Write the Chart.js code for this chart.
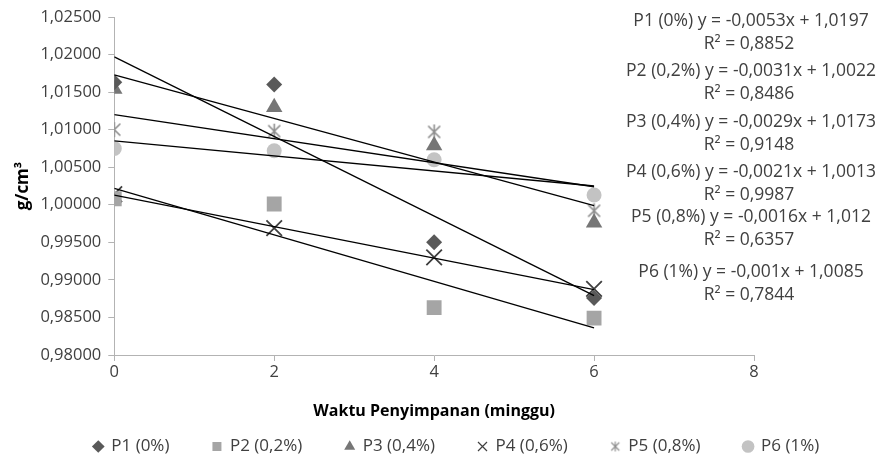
<!DOCTYPE html>
<html>
<head>
<meta charset="utf-8">
<script src="https://cdn.jsdelivr.net/npm/chart.js@4.4.0/dist/chart.umd.min.js"></script>
<style>
  html, body { margin: 0; padding: 0; background: #fff; }
  #wrap { width: 876px; height: 454px; }
</style>
</head>
<body>
<div id="wrap"><canvas id="densChart"></canvas></div>
<script>
// data
const seriesNames = ["P1 (0%)", "P2 (0,2%)", "P3 (0,4%)", "P4 (0,6%)", "P5 (0,8%)", "P6 (1%)"];
const weeks = [0, 2, 4, 6];
const p1 = [1.0163, 1.0160, 0.9950, 0.9876];
const p2 = [1.0008, 1.0001, 0.9863, 0.9849];
const p3 = [1.0154, 1.0130, 1.0079, 0.9976];
const p4 = [1.0014, 0.9969, 0.9930, 0.9888];
const p5 = [1.0100, 1.0098, 1.0097, 0.9992];
const p6 = [1.0075, 1.0072, 1.0060, 1.0013];

// trendline labels as printed on the chart
const trendSlope = [-0.0053, -0.0031, -0.0029, -0.0021, -0.0016, -0.001];
const trendIntercept = [1.0197, 1.0022, 1.0173, 1.0013, 1.012, 1.0085];
const rSquared = ["0,8852", "0,8486", "0,9148", "0,9987", "0,6357", "0,7844"];

const xTicks = [0, 2, 4, 6, 8];
const yTicks = [0.98, 0.985, 0.99, 0.995, 1.0, 1.005, 1.01, 1.015, 1.02, 1.025];

const FONT = "'Open Sans', 'Liberation Sans', sans-serif";

// excel-like asterisk marker
function asteriskMarker(size, color, lw) {
    const c = document.createElement('canvas');
    c.width = size; c.height = size;
    const g = c.getContext('2d');
    const m = size / 2, r = size / 2 - 1;
    g.strokeStyle = color;
    g.lineWidth = lw;
    g.beginPath();
    g.moveTo(m, m - r); g.lineTo(m, m + r);
    const d = r * 0.8;
    g.moveTo(m - d, m - d); g.lineTo(m + d, m + d);
    g.moveTo(m + d, m - d); g.lineTo(m - d, m + d);
    g.stroke();
    return c;
}

const allSeries = [p1, p2, p3, p4, p5, p6];
const styles = [
    { pointStyle: 'rectRot', color: '#595959', radius: 8 },
    { pointStyle: 'rect', color: '#a5a5a5', radius: 10.5 },
    { pointStyle: 'triangle', color: '#767676', radius: 9.5 },
    { pointStyle: 'crossRot', color: '#404040', radius: 11, line: true },
    { pointStyle: asteriskMarker(17, '#8c8c8c', 1.6), color: '#8c8c8c', radius: 8 },
    { pointStyle: 'circle', color: '#c3c3c3', radius: 7.5 }
];

const fmt = v => String(v).replace('.', ',');

const trendSets = trendSlope.map((m, i) => ({
    label: 'trend ' + seriesNames[i],
    data: [0, 6].map(x => ({ x: x, y: trendIntercept[i] + m * x })),
    showLine: true,
    borderColor: '#000',
    borderWidth: 1.3,
    pointRadius: 0,
    fill: false,
    isTrend: true
}));

const pointSets = allSeries.map((vals, i) => ({
    label: seriesNames[i],
    data: weeks.map((w, k) => ({ x: w, y: vals[k] })),
    showLine: false,
    pointStyle: styles[i].pointStyle,
    pointRadius: styles[i].radius,
    pointBackgroundColor: styles[i].color,
    pointBorderColor: styles[i].color,
    pointBorderWidth: styles[i].line ? 1.8 : 0,
    backgroundColor: styles[i].color,
    borderColor: styles[i].color
}));

// equation + R² text on the right
const trendLabels = {
    id: 'trendLabels',
    afterDraw(chart) {
        const ctx = chart.ctx;
        const top = [21, 71, 122, 172, 217, 272];
        ctx.save();
        ctx.fillStyle = '#404040';
        ctx.font = "17.5px " + FONT;
        ctx.textAlign = 'center';
        ctx.textBaseline = 'middle';
        trendSlope.forEach((m, i) => {
            const eq = seriesNames[i] + ' y = ' + fmt(m) + 'x + ' + fmt(trendIntercept[i]);
            ctx.fillText(eq, 751, top[i]);
            ctx.fillText('R\u00b2 = ' + rSquared[i], 749, top[i] + 23.5);
        });
        ctx.restore();
    }
};

const axisColor = '#b3b3b3';
const legendStyles = [
    'rectRot', 'rect', 'triangle', 'crossRot', asteriskMarker(12, '#8c8c8c', 1.1), 'circle'
];

new Chart(document.getElementById('densChart'), {
    type: 'scatter',
    data: { datasets: trendSets.concat(pointSets) },
    options: {
        responsive: true,
        maintainAspectRatio: false,
        animation: false,
        layout: { padding: { top: 17, right: -24, left: 13, bottom: -11 } },
        plugins: {
            tooltip: { enabled: false },
            legend: {
                position: 'bottom',
                labels: {
                    usePointStyle: true,
                    boxWidth: 9,
                    boxHeight: 9,
                    padding: 43,
                    color: '#404040',
                    font: { family: FONT, size: 17 },
                    filter: item => !item.text.startsWith('trend'),
                    generateLabels(chart) {
                        const items = Chart.defaults.plugins.legend.labels.generateLabels(chart);
                        items.forEach(it => {
                            const ds = chart.data.datasets[it.datasetIndex];
                            if (!ds.isTrend) {
                                const idx = seriesNames.indexOf(ds.label);
                                it.pointStyle = legendStyles[idx];
                                it.fillStyle = styles[idx].color;
                                it.strokeStyle = styles[idx].color;
                                it.lineWidth = styles[idx].line ? 1.2 : 0;
                            }
                        });
                        return items;
                    }
                }
            }
        },
        scales: {
            x: {
                type: 'linear',
                min: 0,
                max: 8,
                afterBuildTicks: axis => { axis.ticks = xTicks.map(v => ({ value: v })); },
                ticks: { color: '#404040', font: { family: FONT, size: 16.5 }, padding: 1 },
                grid: { drawOnChartArea: false, drawTicks: true, tickLength: 6, color: axisColor },
                border: { color: axisColor, width: 1 },
                title: {
                    display: true,
                    text: 'Waktu Penyimpanan (minggu)',
                    color: '#000',
                    font: { family: FONT, size: 16, weight: 'bold' },
                    padding: { top: 19, bottom: -26 }
                }
            },
            y: {
                min: 0.98,
                max: 1.025,
                afterBuildTicks: axis => { axis.ticks = yTicks.map(v => ({ value: v })); },
                ticks: {
                    color: '#404040',
                    font: { family: FONT, size: 16.5 },
                    padding: 7,
                    callback: v => v.toFixed(5).replace('.', ',')
                },
                grid: { drawOnChartArea: false, drawTicks: true, tickLength: 6, color: axisColor },
                border: { color: axisColor, width: 1 },
                title: {
                    display: true,
                    text: 'g/cm\u00b3',
                    color: '#000',
                    font: { family: FONT, size: 17, weight: 'bold' },
                    padding: { top: 0, bottom: 0 }
                }
            },
            // empty right-hand box leaving room for the equation labels
            pad: {
                type: 'linear',
                position: 'right',
                display: true,
                grid: { display: false },
                border: { display: false },
                ticks: { display: false },
                afterFit: s => { s.width = 146; }
            }
        }
    },
    plugins: [trendLabels]
});
</script>
</body>
</html>
